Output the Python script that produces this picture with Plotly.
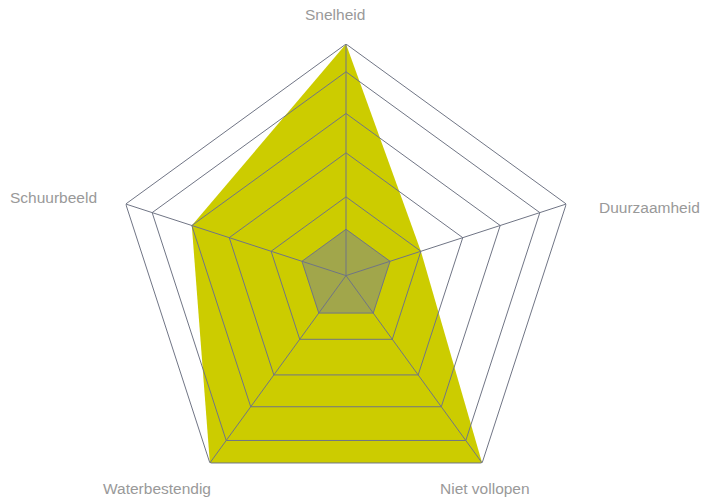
import plotly.graph_objects as go

# Radar chart: sanding-disc properties
categories = ["Snelheid", "Duurzaamheid", "Niet vollopen", "Waterbestendig", "Schuurbeeld"]
ring_levels = [20, 34, 53, 70, 88, 100]
series_main = [100, 34, 100, 100, 70]
series_base = [20, 20, 20, 20, 20]

W, H = 701, 508
CX, CY, R = 346.0, 275.6, 231.6          # centre and outer radius in pixels
GRID = "rgb(112,117,133)"
YELLOW = "rgb(204,204,0)"
BASE = "rgba(118,128,150,0.5)"
LABEL = "#999999"

closed = categories + categories[:1]

fig = go.Figure()

fig.add_trace(go.Scatterpolar(
    r=series_main + series_main[:1], theta=closed, mode="lines",
    fill="toself", fillcolor=YELLOW, line=dict(width=0, color=YELLOW),
    hoverinfo="skip", showlegend=False))

fig.add_trace(go.Scatterpolar(
    r=series_base + series_base[:1], theta=closed, mode="lines",
    fill="toself", fillcolor=BASE, line=dict(width=0, color=BASE),
    hoverinfo="skip", showlegend=False))

# grid rings and spokes drawn on top of the filled areas
for lv in ring_levels:
    fig.add_trace(go.Scatterpolar(
        r=[lv] * len(closed), theta=closed, mode="lines",
        line=dict(color=GRID, width=1), hoverinfo="skip", showlegend=False))
for c in categories:
    fig.add_trace(go.Scatterpolar(
        r=[0, ring_levels[-1]], theta=[c, c], mode="lines",
        line=dict(color=GRID, width=1), hoverinfo="skip", showlegend=False))

# category labels: (x px, y px, xanchor)
label_pos = [
    (303, 15, "left"),
    (597, 207, "left"),
    (438, 488, "left"),
    (213, 488, "right"),
    (99, 197, "right"),
]
annotations = []
for name, (px, py, xa) in zip(categories, label_pos):
    annotations.append(dict(
        text=name, x=px / W, y=(H - py) / H, xref="paper", yref="paper",
        xanchor=xa, yanchor="middle", showarrow=False,
        font=dict(family="Liberation Sans, Arial, sans-serif", size=15.5, color=LABEL)))

fig.update_layout(
    width=W, height=H,
    margin=dict(l=0, r=0, t=0, b=0),
    paper_bgcolor="white",
    plot_bgcolor="white",
    annotations=annotations,
    polar=dict(
        domain=dict(x=[(CX - R) / W, (CX + R) / W], y=[(H - CY - R) / H, (H - CY + R) / H]),
        bgcolor="white",
        radialaxis=dict(range=[0, 100], visible=False),
        angularaxis=dict(rotation=90, direction="clockwise", categoryarray=categories,
                         showgrid=False, showline=False, showticklabels=False, ticks=""),
    ),
)

fig.write_html(
    "out.html",
    config={"displayModeBar": False},
    post_script="document.documentElement.style.overflow='hidden';document.body.style.overflow='hidden';",
)
